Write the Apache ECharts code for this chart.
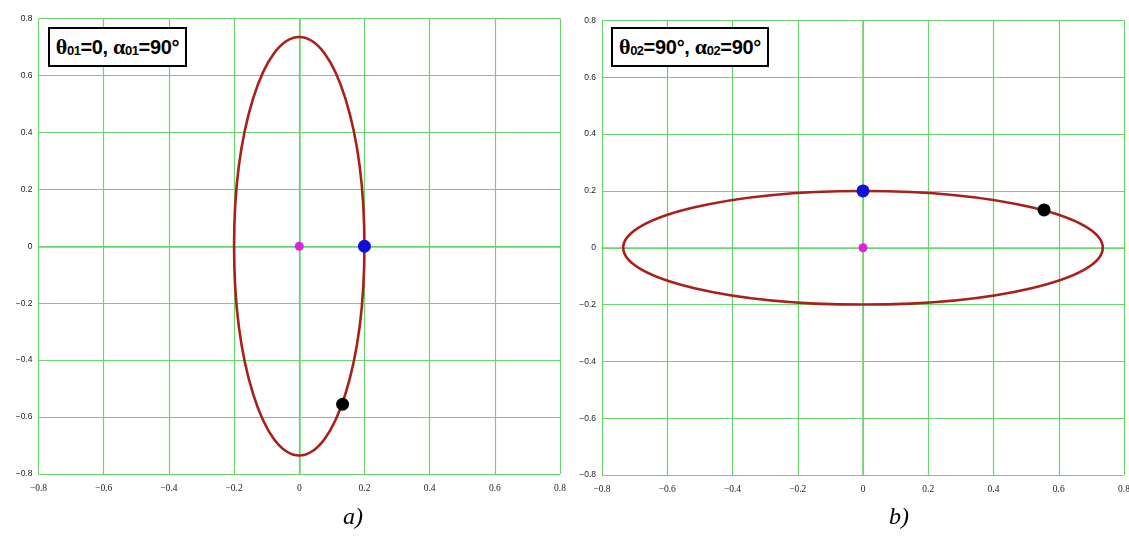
<!DOCTYPE html>
<html>
<head>
<meta charset="utf-8">
<script src="https://cdn.jsdelivr.net/npm/echarts@6/dist/echarts.min.js"></script>
<style>
  html, body { margin: 0; padding: 0; background: #fff; overflow: hidden; }
  #chart { width: 1129px; height: 549px; position: relative; }
  .caption { position: absolute; font-family: "Liberation Serif", "DejaVu Serif", serif; font-style: italic; font-size: 24px; color: #000; }
  .box { position: absolute; border: 2px solid #000; background: #fff; font-family: "Liberation Sans", Arial, sans-serif; font-weight: bold; font-size: 20px; color: #000; box-sizing: border-box; display: flex; align-items: center; justify-content: center; white-space: nowrap; letter-spacing: -0.3px; }
  .box .g { font-family: "Liberation Serif", "DejaVu Serif", serif; font-weight: bold; font-size: 22px; }
  .box sub { font-size: 13px; font-weight: bold; position: relative; top: 4px; vertical-align: baseline; line-height: 0; letter-spacing: -0.5px; }
</style>
</head>
<body>
<div id="chart"></div>
<script>
// Axis ticks shared by both panels
const ticks = [-0.8, -0.6, -0.4, -0.2, 0, 0.2, 0.4, 0.6, 0.8];

// Orbit ellipses: [centerX, centerY, semiAxisX, semiAxisY]
const ellipseA = [0, 0, 0.2, 0.735];
const ellipseB = [0, 0, 0.735, 0.2];

// Marker points per panel
const centerA = [[0, 0]];
const startA = [[0.2, 0]];
const currentA = [[0.133, -0.555]];

const centerB = [[0, 0]];
const startB = [[0, 0.2]];
const currentB = [[0.555, 0.133]];

const gridGreen = '#6cd46c';
const curveRed = '#a8201a';

const fmt = v => (Math.abs(v) < 1e-9 ? '0' : (v < 0 ? '\u2212' + Math.abs(v).toFixed(1) : v.toFixed(1)));

function axisX(gridIndex) {
  return {
    type: 'value', gridIndex, min: ticks[0], max: ticks[ticks.length - 1], interval: 0.2,
    axisLine: { show: true, lineStyle: { color: gridGreen, width: 1.5 } },
    axisTick: { show: false },
    splitLine: { show: true, lineStyle: { color: gridGreen, width: 1.2 } },
    axisLabel: { fontFamily: 'Liberation Serif, serif', fontSize: 9.5, color: '#222', margin: 9, formatter: fmt }
  };
}
function axisY(gridIndex) {
  return {
    type: 'value', gridIndex, min: ticks[0], max: ticks[ticks.length - 1], interval: 0.2,
    axisLine: { show: true, lineStyle: { color: gridGreen, width: 1.5 } },
    axisTick: { show: false },
    splitLine: { show: true, lineStyle: { color: gridGreen, width: 1.2 } },
    axisLabel: { fontFamily: 'Liberation Sans, Arial, sans-serif', fontSize: 8.5, color: '#222', margin: 6, formatter: fmt }
  };
}

function ellipseSeries(idx, params) {
  return {
    type: 'custom', xAxisIndex: idx, yAxisIndex: idx, z: 3, silent: true,
    data: [params],
    renderItem: function (p, api) {
      const c = api.coord([api.value(0), api.value(1)]);
      const s = api.size([api.value(2), api.value(3)]);
      return {
        type: 'ellipse',
        shape: { cx: c[0], cy: c[1], rx: s[0], ry: s[1] },
        style: { fill: null, stroke: curveRed, lineWidth: 2.6 }
      };
    }
  };
}
function dot(idx, data, color, size) {
  return {
    type: 'scatter', xAxisIndex: idx, yAxisIndex: idx, z: 5, silent: true,
    symbolSize: size, itemStyle: { color: color, opacity: 1 }, data: data
  };
}

const chart = echarts.init(document.getElementById('chart'), null, { renderer: 'canvas', width: 1129, height: 549 });
chart.setOption({
  animation: false,
  backgroundColor: '#fff',
  grid: [
    { left: 38.5, top: 18.5, width: 521.5, height: 455.5, outerBoundsMode: 'none', containLabel: false },
    { left: 602, top: 20.5, width: 522, height: 454.5, outerBoundsMode: 'none', containLabel: false }
  ],
  xAxis: [axisX(0), axisX(1)],
  yAxis: [axisY(0), axisY(1)],
  series: [
    ellipseSeries(0, ellipseA),
    dot(0, centerA, '#e020e0', 9),
    dot(0, startA, '#1010d8', 13),
    dot(0, currentA, '#000', 13),
    ellipseSeries(1, ellipseB),
    dot(1, centerB, '#e020e0', 9),
    dot(1, startB, '#1010d8', 13),
    dot(1, currentB, '#000', 13)
  ]
});
</script>
<div class="box" style="left:48px;top:27px;width:139px;height:40px;"><span class="g">&theta;</span><sub>01</sub>=0,&nbsp;<span class="g">&alpha;</span><sub>01</sub>=90&deg;</div>
<div class="box" style="left:611px;top:27px;width:158px;height:40px;"><span class="g">&theta;</span><sub>02</sub>=90&deg;,&nbsp;<span class="g">&alpha;</span><sub>02</sub>=90&deg;</div>
<div class="caption" style="left:343px;top:503px;">a)</div>
<div class="caption" style="left:889px;top:503px;">b)</div>
</body>
</html>
